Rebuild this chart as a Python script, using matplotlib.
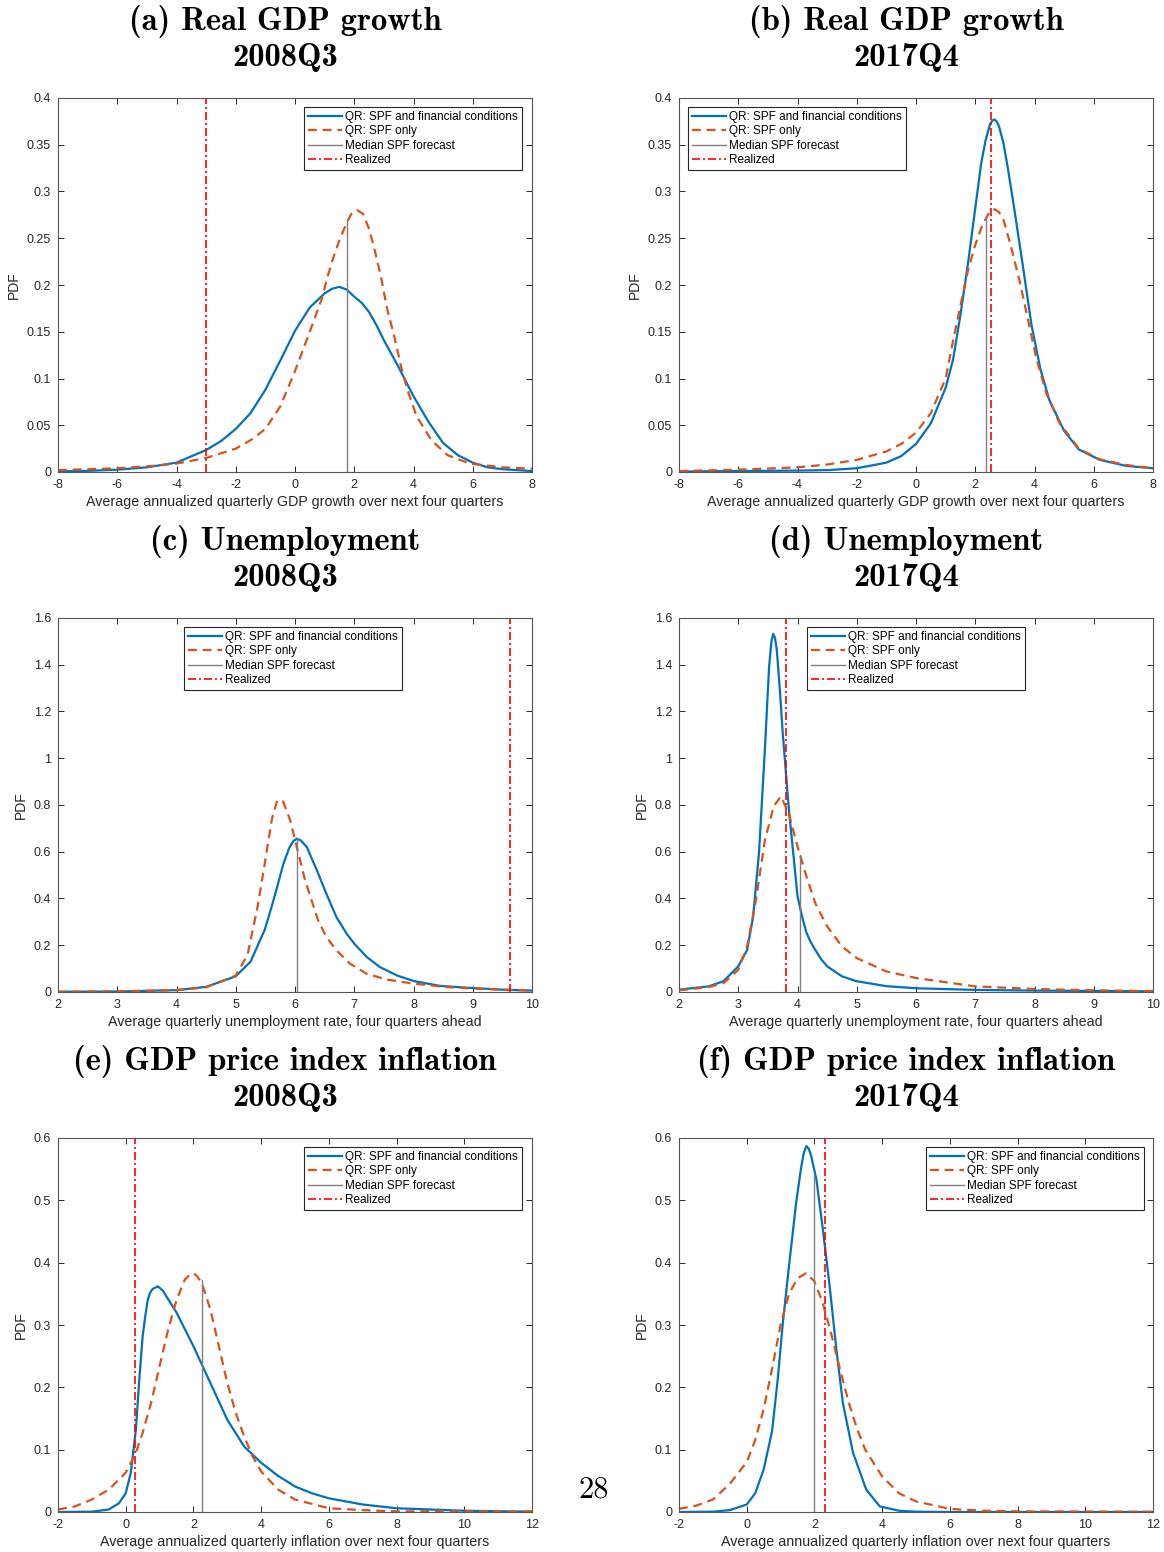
import numpy as np
import matplotlib
matplotlib.use("Agg")
import matplotlib.pyplot as plt
from matplotlib.ticker import FuncFormatter

# ---- data ----
# (a) Real GDP growth 2008Q3
gdp08_fc_x = [-8, -7, -6, -5, -4, -3, -2.5, -2, -1.5, -1, -0.5, 0, 0.5, 1, 1.25, 1.5, 1.75, 2, 2.25, 2.5, 2.75, 3, 3.5, 4, 4.5, 5, 5.5, 6, 6.5, 7, 8]
gdp08_fc_y = [0.0006, 0.0012, 0.0025, 0.005, 0.010, 0.0235, 0.033, 0.046, 0.063, 0.088, 0.119, 0.151, 0.176, 0.191, 0.196, 0.198, 0.195, 0.1875, 0.181, 0.171, 0.157, 0.141, 0.112, 0.081, 0.054, 0.031, 0.018, 0.010, 0.005, 0.003, 0.001]
gdp08_spf_x = [-8, -7, -6, -5, -4, -3, -2, -1.5, -1, -0.5, 0, 0.5, 0.9, 1.1, 1.3, 1.5, 1.75, 1.9, 2.1, 2.3, 2.5, 2.7, 2.9, 3.1, 3.35, 3.6, 3.8, 4.1, 4.6, 5.15, 5.9, 7, 8]
gdp08_spf_y = [0.002, 0.003, 0.004, 0.006, 0.009, 0.015, 0.025, 0.034, 0.046, 0.070, 0.108, 0.150, 0.185, 0.209, 0.230, 0.248, 0.267, 0.276, 0.280, 0.276, 0.260, 0.236, 0.209, 0.176, 0.145, 0.110, 0.0875, 0.060, 0.034, 0.018, 0.009, 0.005, 0.0035]
gdp08_median, gdp08_median_top, gdp08_realized = 1.75, 0.268, -3.0

# (b) Real GDP growth 2017Q4
gdp17_fc_x = [-8, -6, -4, -3, -2, -1, -0.5, 0, 0.5, 1, 1.25, 1.5, 1.75, 2, 2.2, 2.35, 2.5, 2.58, 2.65, 2.72, 2.8, 2.95, 3.1, 3.3, 3.6, 3.9, 4.2, 4.5, 5, 5.5, 6.2, 7.1, 8]
gdp17_fc_y = [0.0005, 0.001, 0.0015, 0.002, 0.004, 0.010, 0.017, 0.030, 0.052, 0.090, 0.120, 0.168, 0.222, 0.282, 0.330, 0.355, 0.372, 0.376, 0.377, 0.375, 0.370, 0.352, 0.325, 0.285, 0.222, 0.157, 0.110, 0.077, 0.044, 0.024, 0.013, 0.0065, 0.004]
gdp17_spf_x = [-8, -6, -4, -3, -2, -1, -0.5, 0, 0.5, 1, 1.25, 1.5, 1.75, 2, 2.25, 2.5, 2.65, 2.8, 2.95, 3.2, 3.5, 3.8, 4.05, 4.4, 4.85, 5.5, 6.2, 7.1, 8]
gdp17_spf_y = [0.001, 0.0025, 0.005, 0.008, 0.013, 0.022, 0.030, 0.042, 0.063, 0.100, 0.140, 0.178, 0.215, 0.243, 0.265, 0.279, 0.281, 0.278, 0.270, 0.242, 0.204, 0.160, 0.123, 0.084, 0.052, 0.025, 0.0135, 0.0075, 0.004]
gdp17_median, gdp17_median_top, gdp17_realized = 2.35, 0.272, 2.54

# (c) Unemployment 2008Q3
un08_fc_x = [2, 3, 4, 4.5, 5, 5.25, 5.49, 5.6, 5.7, 5.8, 5.9, 5.97, 6.03, 6.1, 6.2, 6.37, 6.53, 6.7, 6.87, 7, 7.21, 7.43, 7.72, 8, 8.45, 9, 9.5, 10]
un08_fc_y = [0.001, 0.002, 0.008, 0.022, 0.067, 0.130, 0.267, 0.360, 0.450, 0.545, 0.615, 0.645, 0.656, 0.648, 0.620, 0.520, 0.420, 0.320, 0.250, 0.207, 0.150, 0.107, 0.071, 0.047, 0.026, 0.017, 0.010, 0.006]
un08_spf_x = [2, 3, 4, 4.5, 5, 5.2, 5.37, 5.49, 5.61, 5.7, 5.8, 5.92, 6.06, 6.17, 6.28, 6.39, 6.53, 6.7, 6.93, 7.21, 7.55, 8, 8.56, 9, 9.5, 10]
un08_spf_y = [0.001, 0.003, 0.008, 0.020, 0.070, 0.160, 0.366, 0.550, 0.740, 0.820, 0.815, 0.734, 0.590, 0.478, 0.392, 0.307, 0.235, 0.178, 0.121, 0.078, 0.053, 0.036, 0.021, 0.015, 0.010, 0.006]
un08_median, un08_median_top, un08_realized = 6.04, 0.655, 9.63

# (d) Unemployment 2017Q4
un17_fc_x = [2, 2.5, 2.75, 3, 3.15, 3.25, 3.35, 3.45, 3.52, 3.56, 3.59, 3.62, 3.65, 3.7, 3.75, 3.85, 4.0, 4.08, 4.15, 4.22, 4.3, 4.4, 4.5, 4.75, 5, 5.5, 6, 7, 8, 10]
un17_fc_y = [0.010, 0.024, 0.046, 0.110, 0.180, 0.320, 0.595, 1.040, 1.390, 1.500, 1.532, 1.515, 1.465, 1.300, 1.110, 0.794, 0.410, 0.320, 0.255, 0.215, 0.180, 0.140, 0.110, 0.067, 0.046, 0.025, 0.016, 0.009, 0.006, 0.003]
un17_spf_x = [2, 2.5, 2.75, 3, 3.15, 3.3, 3.45, 3.6, 3.72, 3.85, 4.0, 4.15, 4.3, 4.5, 4.75, 5, 5.5, 6, 7, 8, 9, 10]
un17_spf_y = [0.007, 0.021, 0.038, 0.095, 0.195, 0.395, 0.650, 0.795, 0.837, 0.766, 0.623, 0.495, 0.380, 0.281, 0.195, 0.145, 0.088, 0.060, 0.024, 0.013, 0.007, 0.004]
un17_median, un17_median_top, un17_realized = 4.04, 0.588, 3.81

# (e) GDP price index inflation 2008Q3
inf08_fc_x = [-2, -1, -0.5, -0.2, 0, 0.15, 0.3, 0.4, 0.5, 0.58, 0.65, 0.72, 0.8, 0.95, 1.1, 1.2, 1.5, 2, 2.5, 3, 3.5, 3.75, 4, 4.5, 5, 5.5, 6, 7, 8, 10, 12]
inf08_fc_y = [0.0, 0.0005, 0.004, 0.014, 0.030, 0.063, 0.132, 0.212, 0.282, 0.315, 0.340, 0.352, 0.358, 0.362, 0.355, 0.346, 0.320, 0.266, 0.207, 0.148, 0.105, 0.092, 0.079, 0.058, 0.041, 0.030, 0.022, 0.012, 0.006, 0.002, 0.0005]
inf08_spf_x = [-2, -1.5, -1, -0.5, 0, 0.3, 0.5, 0.75, 1, 1.25, 1.5, 1.75, 1.9, 2.0, 2.1, 2.25, 2.5, 2.75, 3, 3.25, 3.5, 3.75, 4, 4.5, 5, 6, 7, 8, 12]
inf08_spf_y = [0.004, 0.009, 0.020, 0.036, 0.063, 0.095, 0.127, 0.175, 0.234, 0.292, 0.340, 0.373, 0.381, 0.383, 0.379, 0.367, 0.325, 0.266, 0.207, 0.159, 0.121, 0.089, 0.065, 0.036, 0.020, 0.006, 0.003, 0.001, 0.001]
inf08_median, inf08_median_top, inf08_realized = 2.24, 0.372, 0.28

# (f) GDP price index inflation 2017Q4
inf17_fc_x = [-2, -1, -0.5, 0, 0.25, 0.5, 0.75, 0.92, 1.07, 1.27, 1.46, 1.6, 1.68, 1.76, 1.83, 1.9, 2.06, 2.25, 2.45, 2.65, 2.84, 3.14, 3.53, 3.93, 4.5, 5, 6, 12]
inf17_fc_y = [0.0, 0.0005, 0.003, 0.012, 0.030, 0.068, 0.130, 0.215, 0.305, 0.405, 0.496, 0.550, 0.575, 0.587, 0.583, 0.572, 0.533, 0.453, 0.362, 0.260, 0.175, 0.095, 0.036, 0.009, 0.002, 0.0005, 0.0, 0.0]
inf17_spf_x = [-2, -1.5, -1, -0.5, 0, 0.25, 0.5, 0.75, 1.0, 1.25, 1.5, 1.75, 2.0, 2.25, 2.5, 2.75, 3, 3.25, 3.5, 4, 4.5, 5, 6, 7, 8, 12]
inf17_spf_y = [0.005, 0.010, 0.020, 0.045, 0.080, 0.115, 0.165, 0.230, 0.300, 0.350, 0.375, 0.383, 0.370, 0.335, 0.285, 0.230, 0.178, 0.135, 0.100, 0.057, 0.030, 0.017, 0.005, 0.002, 0.001, 0.0005]
inf17_median, inf17_median_top, inf17_realized = 2.0, 0.541, 2.30

titles = ["(a) Real GDP growth", "(b) Real GDP growth", "(c) Unemployment",
          "(d) Unemployment", "(e) GDP price index inflation", "(f) GDP price index inflation"]
dates = ["2008Q3", "2017Q4"] * 3
xlabels = ["Average annualized quarterly GDP growth over next four quarters"] * 2 + \
          ["Average quarterly unemployment rate, four quarters ahead"] * 2 + \
          ["Average annualized quarterly inflation over next four quarters"] * 2
legend_labels = ["QR: SPF and financial conditions", "QR: SPF only",
                 "Median SPF forecast", "Realized"]

series = [
    (gdp08_fc_x, gdp08_fc_y, gdp08_spf_x, gdp08_spf_y, gdp08_median, gdp08_median_top, gdp08_realized),
    (gdp17_fc_x, gdp17_fc_y, gdp17_spf_x, gdp17_spf_y, gdp17_median, gdp17_median_top, gdp17_realized),
    (un08_fc_x, un08_fc_y, un08_spf_x, un08_spf_y, un08_median, un08_median_top, un08_realized),
    (un17_fc_x, un17_fc_y, un17_spf_x, un17_spf_y, un17_median, un17_median_top, un17_realized),
    (inf08_fc_x, inf08_fc_y, inf08_spf_x, inf08_spf_y, inf08_median, inf08_median_top, inf08_realized),
    (inf17_fc_x, inf17_fc_y, inf17_spf_x, inf17_spf_y, inf17_median, inf17_median_top, inf17_realized),
]

# axis setup per row
xlims = [(-8, 8), (2, 10), (-2, 12)]
xsteps = [2, 1, 2]
ylims = [(0, 0.4), (0, 1.6), (0, 0.6)]
ysteps = [0.05, 0.2, 0.1]

# ---- layout (pixels) ----
W, H = 1164, 1552
col_left = [58, 679]
ax_w = 474
row_top = [98, 618, 1138]
ax_h = 374
leg_x = [304, 688, 184, 807, 304, 926]

plt.rcParams['font.family'] = ['Liberation Sans', 'DejaVu Sans']
fig = plt.figure(figsize=(W / 100, H / 100), dpi=100)

BLUE = '#0072BD'
ORANGE = '#D95319'
GRAY = '#808080'
AXC = '#262626'

fmt = FuncFormatter(lambda v, p: '%g' % round(v, 6))

for i in range(6):
    r, c = divmod(i, 2)
    left, top = col_left[c], row_top[r]
    ax = fig.add_axes([left / W, 1 - (top + ax_h) / H, ax_w / W, ax_h / H])
    fx, fy, sx, sy, med, medtop, real = series[i]

    ax.plot(fx, fy, color=BLUE, lw=1.6, label=legend_labels[0])
    ax.plot(sx, sy, color=ORANGE, lw=1.6, linestyle=(0, (4, 2.6)), label=legend_labels[1])
    ax.plot([med, med], [0, medtop], color=GRAY, lw=1.0, label=legend_labels[2])
    ax.axvline(real, color='#FF0000', lw=1.2, linestyle=(0, (4.8, 1.8, 1.2, 1.8)), label=legend_labels[3])

    x0, x1 = xlims[r]
    ax.set_xlim(x0, x1)
    ax.set_ylim(*ylims[r])
    ax.set_xticks(np.arange(x0, x1 + 0.001, xsteps[r]))
    ax.set_yticks(np.arange(ylims[r][0], ylims[r][1] + 1e-9, ysteps[r]))
    ax.xaxis.set_major_formatter(fmt)
    ax.yaxis.set_major_formatter(fmt)
    ax.tick_params(direction='in', top=True, right=True, length=4, width=0.7,
                   color=AXC, labelsize=9, labelcolor=AXC, pad=5)
    for sp in ax.spines.values():
        sp.set_color('#555555')
        sp.set_linewidth(0.8)
    ax.set_xlabel(xlabels[i], fontsize=10.3, color=AXC, labelpad=3)
    ax.set_ylabel('PDF', fontsize=10, color=AXC, labelpad=4)

    leg = ax.legend(loc='upper left',
                    bbox_to_anchor=((leg_x[i] - left) / ax_w, 1 - 9 / ax_h),
                    borderaxespad=0, fontsize=8.5, frameon=True, fancybox=False,
                    framealpha=1, edgecolor=AXC, handlelength=2.9,
                    handletextpad=0.2, labelspacing=0.2, borderpad=0.35)
    leg.get_frame().set_linewidth(0.8)

    cx = (left + ax_w / 2 - 10) / W
    fig.text(cx, 1 - (top - 76) / H, titles[i], ha='center', va='center',
             fontsize=23.5, family=['cmb10', 'DejaVu Serif'])
    fig.text(cx, 1 - (top - 40) / H, dates[i], ha='center', va='center',
             fontsize=23.5, family=['cmb10', 'DejaVu Serif'])

fig.text(594 / W, 1 - 1490 / H, '28', ha='center', va='center', fontsize=22,
         family=['cmr10', 'DejaVu Serif'])

fig.savefig('out.png', dpi=100)
